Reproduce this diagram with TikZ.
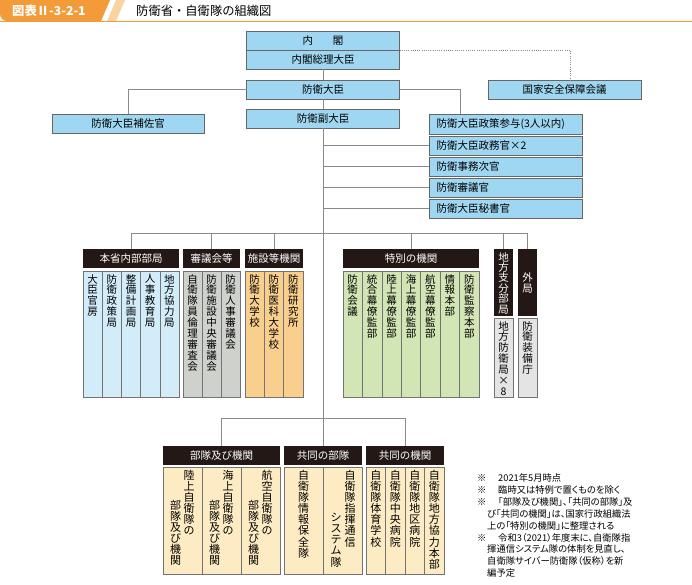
\documentclass[tikz,border=0pt]{standalone}
\usepackage{fontspec}
\setmainfont{Noto Sans CJK JP}
\newfontfamily\notefont[RawFeature=+palt]{Noto Sans CJK JP}
\definecolor{tabc}{HTML}{F29B38}
\definecolor{stripec}{HTML}{FAD3A0}
\definecolor{boxblue}{HTML}{9FD7F2}
\definecolor{colblue}{HTML}{D2ECFA}
\definecolor{colgray}{HTML}{CFD1CC}
\definecolor{colorange}{HTML}{F9CF8D}
\definecolor{colgreen}{HTML}{D2E6B5}
\definecolor{colltgray}{HTML}{E4E4E4}
\definecolor{colcream}{HTML}{FDECC3}
\definecolor{hdark}{HTML}{231815}
\definecolor{linec}{HTML}{8A8A8A}
\newcommand\mkcol[7]{%
  \node[colrect, fill=#6, minimum width=#4pt, minimum height=#5pt] (#1) at (#2,#3) {};%
  \node[vtext] (#1t) at ([yshift=-3pt]#1.north) {#7};}
\begin{document}
\begin{tikzpicture}[x=1pt,y=-1pt,
  conn/.style={draw=linec, line width=0.9pt},
  dotline/.style={draw=linec, line width=0.8pt, dash pattern=on 0.9pt off 1.3pt},
  bluebox/.style={draw=black!60, line width=0.8pt, fill=boxblue, inner sep=0pt, outer sep=0pt,
    anchor=north west, minimum width=153pt, minimum height=19pt, font=\fontsize{10.5}{12}\selectfont},
  colrect/.style={draw=black!55, line width=0.6pt, anchor=north west, inner sep=0pt, outer sep=0pt},
  vtext/.style={anchor=north, inner sep=0pt, align=center, font=\fontsize{10.5}{10.9}\selectfont},
  vtextb/.style={anchor=north, inner sep=0pt, align=center, font=\fontsize{11}{11.1}\selectfont},
  hdr/.style={fill=hdark, text=white, anchor=north west, inner sep=0pt, outer sep=0pt,
    minimum height=19pt, font=\fontsize{10.5}{12}\selectfont},
  note/.style={anchor=base west, inner sep=0pt, font=\notefont\fontsize{9.3}{11}\selectfont}
]
\fill[white] (0,0) rectangle (692,584);
\useasboundingbox (0,0) rectangle (692,584);
% title strip
\fill[tabc] (0,0) -- (110,0) -- (101,21) -- (7,21) arc[start angle=90, end angle=180, radius=7] -- cycle;
\fill[stripec] (116,0) -- (125,0) -- (116,21) -- (107,21) -- cycle;
\draw[tabc, line width=1.4pt] (0,21.6) -- (692,21.6);
\node[anchor=west, inner sep=0pt, text=white, font=\bfseries\fontsize{12.3}{13}\selectfont] (tabtxt) at (12,11) {図表Ⅱ-3-2-1};
\node[anchor=west, inner sep=0pt, font=\fontsize{12.3}{13}\selectfont] (title) at (136,11) {防衛省・自衛隊の組織図};

% top boxes
\node[bluebox] (naikaku) at (246.5,31) {内\hspace{1.9em}閣};
\node[bluebox] (souri) at (246.5,50) {内閣総理大臣};
\node[bluebox] (daijin) at (246.5,80) {防衛大臣};
\node[bluebox] (fuku) at (246.5,109) {防衛副大臣};
\node[bluebox] (kokka) at (488,80) {国家安全保障会議};
\node[bluebox, minimum width=152pt] (hosa) at (52,114) {防衛大臣補佐官};
\node[bluebox, minimum height=20pt] (sanyo) at (429,114) {\makebox[138pt][l]{防衛大臣政策参与(3人以内)}};
\node[bluebox] (seimu) at (429,136) {\makebox[138pt][l]{防衛大臣政務官×2}};
\node[bluebox] (jimu) at (429,157) {\makebox[138pt][l]{防衛事務次官}};
\node[bluebox] (shingi) at (429,178) {\makebox[138pt][l]{防衛審議官}};
\node[bluebox] (hisho) at (429,199) {\makebox[138pt][l]{防衛大臣秘書官}};

% top connectors
\draw[conn] (souri.south) -- (daijin.north);
\draw[conn] (daijin.south) -- (fuku.north);
\draw[dotline] (naikaku.south east) -| ([xshift=5.5pt]kokka.north);
\draw[conn] (daijin.east) -| ([xshift=-45.5pt]sanyo.north);
\draw[conn] (daijin.west) -| (hosa.north);
\draw[conn] (seimu.west -| fuku.south) -- (seimu.west);
\draw[conn] (jimu.west -| fuku.south) -- (jimu.west);
\draw[conn] (shingi.west -| fuku.south) -- (shingi.west);
\draw[conn] (hisho.west -| fuku.south) -- (hisho.west);

% group headers
\node[hdr, minimum width=96pt] (hq1) at (83,249) {本省内部部局};
\node[hdr, minimum width=57pt] (hq2) at (183,249) {審議会等};
\node[hdr, minimum width=58pt] (hq3) at (245,249) {施設等機関};
\node[hdr, minimum width=136pt] (hq4) at (343,249) {特別の機関};
\node[hdr, minimum width=19pt, minimum height=67pt] (hq5) at (494,249) {};
\node[vtext, text=white, font=\fontsize{10.5}{10.4}\selectfont] (hq5t) at ([yshift=-3pt]hq5.north) {地\\方\\支\\分\\部\\局};
\node[hdr, minimum width=19pt, minimum height=67pt, align=center, font=\fontsize{10.5}{11}\selectfont] (hq6) at (518,249) {外\\局};

\draw[conn] (hq1.north) -- ++(0,-16) -| (hq6.north);
\draw[conn] (hq2.north) -- ++(0,-16);
\draw[conn] (hq3.north) -- ++(0,-16);
\draw[conn] (hq4.north) -- ++(0,-16);
\draw[conn] (hq5.north) -- ++(0,-16);

% columns
\mkcol{s1}{83}{271}{19.2}{126}{colblue}{大\\臣\\官\\房}
\mkcol{s2}{102.2}{271}{19.2}{126}{colblue}{防\\衛\\政\\策\\局}
\mkcol{s3}{121.4}{271}{19.2}{126}{colblue}{整\\備\\計\\画\\局}
\mkcol{s4}{140.6}{271}{19.2}{126}{colblue}{人\\事\\教\\育\\局}
\mkcol{s5}{159.8}{271}{19.2}{126}{colblue}{地\\方\\協\\力\\局}
\mkcol{g1}{183}{271}{19}{126}{colgray}{自\\衛\\隊\\員\\倫\\理\\審\\査\\会}
\mkcol{g2}{202}{271}{19}{126}{colgray}{防\\衛\\施\\設\\中\\央\\審\\議\\会}
\mkcol{g3}{221}{271}{19}{126}{colgray}{防\\衛\\人\\事\\審\\議\\会}
\mkcol{o1}{245}{271}{19.33}{126}{colorange}{防\\衛\\大\\学\\校}
\mkcol{o2}{264.33}{271}{19.33}{126}{colorange}{防\\衛\\医\\科\\大\\学\\校}
\mkcol{o3}{283.67}{271}{19.33}{126}{colorange}{防\\衛\\研\\究\\所}
\mkcol{t1}{343}{271}{19.43}{126}{colgreen}{防\\衛\\会\\議}
\mkcol{t2}{362.43}{271}{19.43}{126}{colgreen}{統\\合\\幕\\僚\\監\\部}
\mkcol{t3}{381.86}{271}{19.43}{126}{colgreen}{陸\\上\\幕\\僚\\監\\部}
\mkcol{t4}{401.29}{271}{19.43}{126}{colgreen}{海\\上\\幕\\僚\\監\\部}
\mkcol{t5}{420.71}{271}{19.43}{126}{colgreen}{航\\空\\幕\\僚\\監\\部}
\mkcol{t6}{440.14}{271}{19.43}{126}{colgreen}{情\\報\\本\\部}
\mkcol{t7}{459.57}{271}{19.43}{126}{colgreen}{防\\衛\\監\\察\\本\\部}
\mkcol{l1}{494}{318}{19}{79}{colltgray}{地\\方\\防\\衛\\局\\×\\8}
\mkcol{l2}{518}{318}{19}{79}{colltgray}{防\\衛\\装\\備\\庁}

% bottom headers
\node[hdr, minimum width=117pt] (bh1) at (163,446) {部隊及び機関};
\node[hdr, minimum width=78pt] (bh2) at (284,446) {共同の部隊};
\node[hdr, minimum width=78pt] (bh3) at (366,446) {共同の機関};
\draw[conn] (fuku.south) -- (bh2.north);
\draw[conn] (bh1.north) -- ++(0,-28) -| (bh3.north);

% bottom columns
\mkcol{b1}{163}{467}{39}{107}{colcream}{}
\mkcol{b2}{202}{467}{39}{107}{colcream}{}
\mkcol{b3}{241}{467}{39}{107}{colcream}{}
\node[vtextb] (b1r) at ([xshift=26pt,yshift=-3pt]b1.north west) {陸\\上\\自\\衛\\隊\\の};
\node[vtextb] (b1l) at ([xshift=12.5pt,yshift=-33pt]b1.north west) {部\\隊\\及\\び\\機\\関};
\node[vtextb] (b2r) at ([xshift=26pt,yshift=-3pt]b2.north west) {海\\上\\自\\衛\\隊\\の};
\node[vtextb] (b2l) at ([xshift=12.5pt,yshift=-33pt]b2.north west) {部\\隊\\及\\び\\機\\関};
\node[vtextb] (b3r) at ([xshift=26pt,yshift=-3pt]b3.north west) {航\\空\\自\\衛\\隊\\の};
\node[vtextb] (b3l) at ([xshift=12.5pt,yshift=-33pt]b3.north west) {部\\隊\\及\\び\\機\\関};
\mkcol{c1}{284}{467}{39}{107}{colcream}{}
\mkcol{c2}{323}{467}{39}{107}{colcream}{}
\node[vtextb] (c1m) at ([yshift=-3pt]c1.north) {自\\衛\\隊\\情\\報\\保\\全\\隊};
\node[vtextb] (c2r) at ([xshift=27pt,yshift=-3pt]c2.north west) {自\\衛\\隊\\指\\揮\\通\\信};
\node[vtextb] (c2l) at ([xshift=13pt,yshift=-46pt]c2.north west) {シ\\ス\\テ\\ム\\隊};
\mkcol{d1}{366}{467}{19.5}{107}{colcream}{}
\mkcol{d2}{385.5}{467}{19.5}{107}{colcream}{}
\mkcol{d3}{405}{467}{19.5}{107}{colcream}{}
\mkcol{d4}{424.5}{467}{19.5}{107}{colcream}{}
\node[vtextb] (d1m) at ([yshift=-3pt]d1.north) {自\\衛\\隊\\体\\育\\学\\校};
\node[vtextb] (d2m) at ([yshift=-3pt]d2.north) {自\\衛\\隊\\中\\央\\病\\院};
\node[vtextb] (d3m) at ([yshift=-3pt]d3.north) {自\\衛\\隊\\地\\区\\病\\院};
\node[vtextb] (d4m) at ([yshift=-3pt]d4.north) {自\\衛\\隊\\地\\方\\協\\力\\本\\部};

% notes
\node[note] (m1) at (477,481.5) {※};
\node[note] (m2) at (477,493.4) {※};
\node[note] (m3) at (477,505.3) {※};
\node[note] (m6) at (477,541) {※};
\node[note] (n1) at (498,481.5) {2021年5月時点};
\node[note] (n2) at (498,493.4) {臨時又は特例で置くものを除く};
\node[note] (n3) at (498,505.3) {「部隊及び機関」、「共同の部隊」及};
\node[note] (n4) at (487,517.2) {び「共同の機関」は、国家行政組織法};
\node[note] (n5) at (487,529.1) {上の「特別の機関」に整理される};
\node[note] (n6) at (498,541) {令和3（2021）年度末に、自衛隊指};
\node[note] (n7) at (487,552.9) {揮通信システム隊の体制を見直し、};
\node[note] (n8) at (487,564.8) {自衛隊サイバー防衛隊（仮称）を新};
\node[note] (n9) at (487,576.7) {編予定};
\end{tikzpicture}
\end{document}
